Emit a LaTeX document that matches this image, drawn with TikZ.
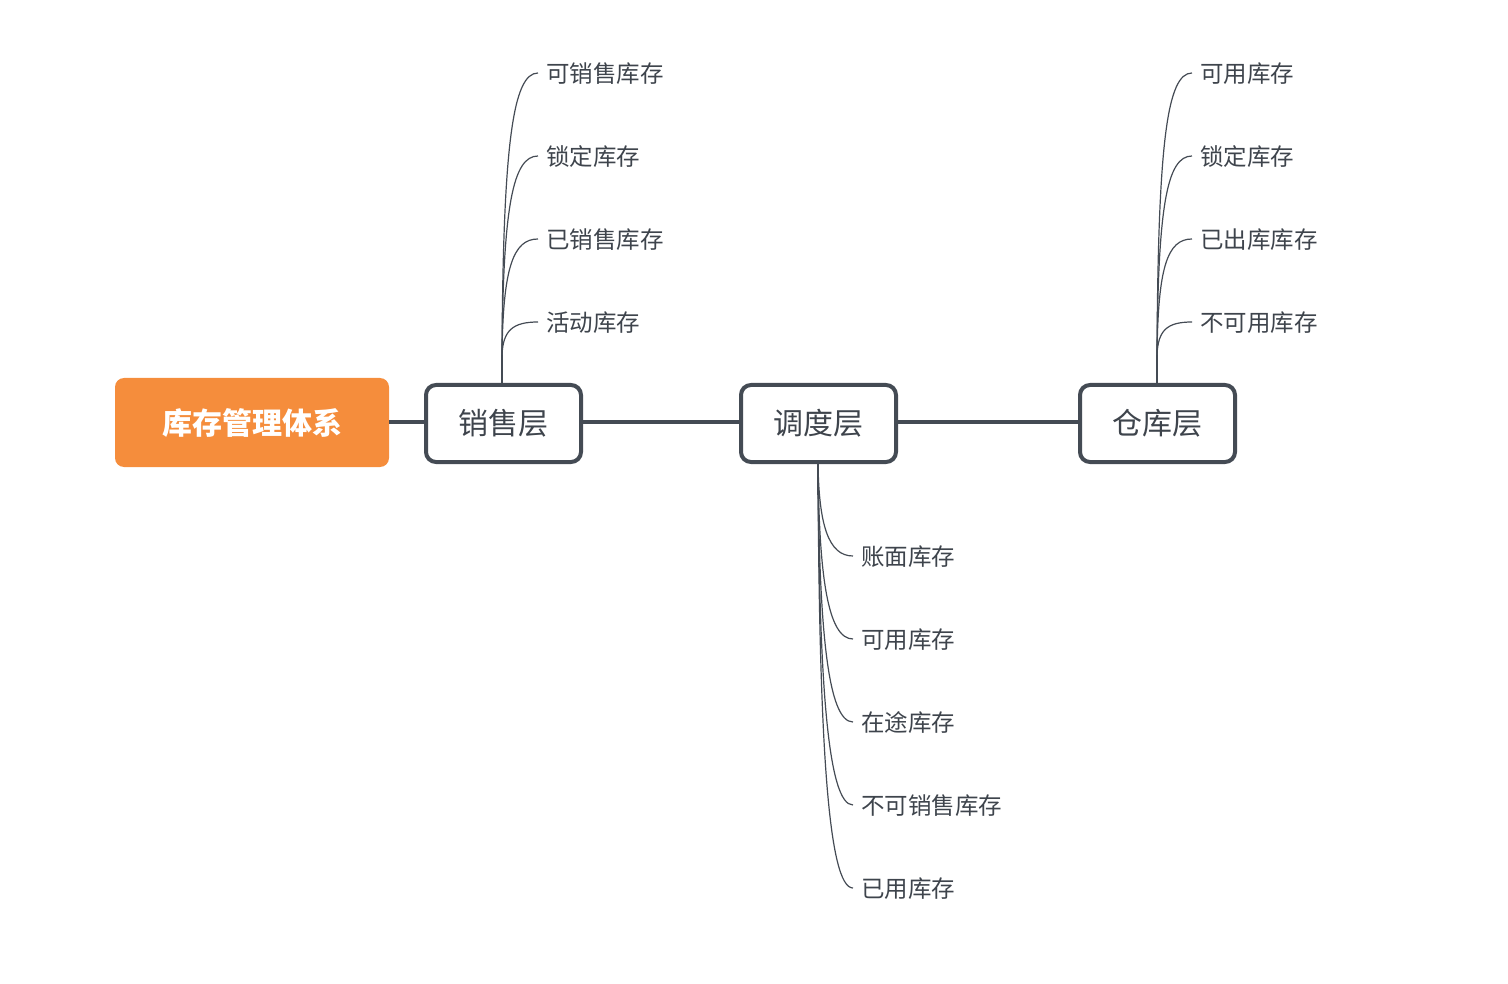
\documentclass[tikz,border=0pt]{standalone}
\usepackage{fontspec}
\setmainfont{Noto Sans CJK SC}
\definecolor{lineC}{HTML}{444B54}
\definecolor{txtC}{HTML}{3E444C}
\definecolor{orangeC}{HTML}{F58D3C}
\tikzset{
  layer/.style={draw=lineC, line width=4pt, rounded corners=10pt, fill=white,
    minimum width=155pt, minimum height=77pt, inner sep=0pt, text=txtC,
    font=\fontsize{30}{34}\selectfont},
  rootbox/.style={fill=orangeC, rounded corners=9pt, minimum width=274pt,
    minimum height=89pt, inner sep=0pt, text=white,
    font=\fontsize{30}{34}\selectfont\bfseries},
  leaf/.style={anchor=west, inner sep=0pt, text=txtC, text height=1.2em, text depth=0em,
    yshift=-3.5pt, font=\fontsize{23.5}{27}\selectfont},
  trunk/.style={draw=lineC, line width=4pt},
  stem/.style={draw=lineC, line width=2.6pt},
  twig/.style={draw=lineC, line width=1.2pt},
}
\begin{document}
\begin{tikzpicture}[x=1pt,y=-1pt]
\useasboundingbox (0,0) rectangle (1508,984);
% main nodes
\node[rootbox] (root) at (252,422.5) {库存管理体系};
\node[layer] (sale) at (503.5,423.5) {销售层};
\node[layer] (disp) at (818.5,423.5) {调度层};
\node[layer] (ware) at (1157.5,423.5) {仓库层};
\coordinate (t0) at (0,422);
\draw[trunk] (root.east |- t0) -- (sale.west |- t0);
\draw[trunk] (sale.east |- t0) -- (disp.west |- t0);
\draw[trunk] (disp.east |- t0) -- (ware.west |- t0);
% stems
\coordinate (s1) at (502,355);
\coordinate (s2) at (1157,355);
\coordinate (s3) at (818,495);
\draw[stem] (sale.north -| s1) -- (s1);
\draw[stem] (ware.north -| s2) -- (s2);
\draw[stem] (disp.south -| s3) -- (s3);
% sales leaves
\foreach \t/\y/\n in {可销售库存/73/a1, 锁定库存/156/a2, 已销售库存/239/a3, 活动库存/322/a4}{
  \node[leaf] (\n) at (546,\y) {\t};
  \coordinate (\n e) at (538,\y);
  \draw[twig] (s1) .. controls (503,{\y+0.25*(355-\y)}) and (513,\y) .. (\n e);
}
% warehouse leaves
\foreach \t/\y/\n in {可用库存/73/b1, 锁定库存/156/b2, 已出库库存/239/b3, 不可用库存/322/b4}{
  \node[leaf] (\n) at (1200,\y) {\t};
  \coordinate (\n e) at (1192,\y);
  \draw[twig] (s2) .. controls (1158,{\y+0.25*(355-\y)}) and (1167,\y) .. (\n e);
}
% dispatch leaves
\foreach \t/\y/\n in {账面库存/556/c1, 可用库存/639/c2, 在途库存/722/c3, 不可销售库存/805/c4, 已用库存/888/c5}{
  \node[leaf] (\n) at (861,\y) {\t};
  \coordinate (\n e) at (853,\y);
  \draw[twig] (disp.south -| s3) .. controls (819,{\y-0.35*(\y-464)}) and (828,\y) .. (\n e);
}
\end{tikzpicture}
\end{document}
